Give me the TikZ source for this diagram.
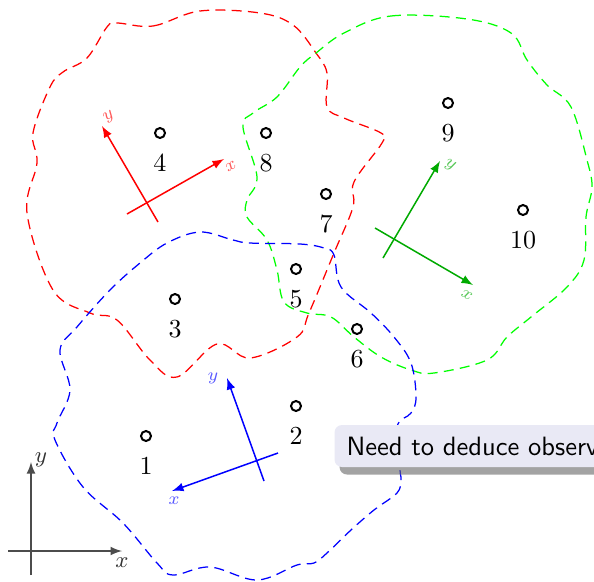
\documentclass[tikz,border=0pt]{standalone}
\usepackage{xcolor}
\usepackage{tikz}
\usetikzlibrary{positioning,shadows}

\definecolor{notefill}{RGB}{233,233,245}
\definecolor{axgreen}{RGB}{0,170,0}

\begin{document}
\begin{tikzpicture}[
      x=0.4pt, y=-0.4pt,
      obs/.style={circle, draw, thick, minimum size=4pt, inner sep=0pt},
      num/.style={below=2.6pt of #1, font=\fontsize{10.4}{12}\selectfont},
      zone/.style={dash pattern=on 4pt off 2.5pt, semithin},
      semithin/.style={line width=0.5pt},
      frame/.style={->, >=latex, line width=0.6pt},
      world/.style={->, >=latex, semithick, black!70},
      axlab/.style={font=\scriptsize, opacity=0.65},
      callout/.style={rectangle, rounded corners=3pt, fill=notefill,
        font=\sffamily\fontsize{10.6}{12}\selectfont,
        minimum height=16.8pt, inner xsep=4.8pt, anchor=west,
        drop shadow={shadow xshift=2pt, shadow yshift=-3pt, fill=black!60, opacity=0.6}}
    ]
      \useasboundingbox (0,0) rectangle (594,581);
      \clip (0,0) rectangle (594,581);

      % regions
      \draw[zone, red] plot[smooth cycle, tension=0.6] coordinates {
        (117,23) (153,26) (200,11) (260,13) (293,25) (316,53) (327,73) (327,107)
        (344,118) (381,133) (382,143) (354,182) (353,207) (334,253) (309,313)
        (297,337) (250,358) (217,344) (177,377) (150,360) (117,320) (90,313)
        (53,290) (27,213) (37,163) (33,133) (50,87) (63,72) (87,58) (107,27)};
      \draw[zone, green] plot[smooth cycle, tension=0.6] coordinates {
        (344,33) (391,16) (467,19) (511,33) (527,60) (547,85) (571,107) (587,160)
        (592,187) (586,217) (584,260) (567,287) (531,317) (507,337) (487,360)
        (434,373) (411,370) (381,357) (354,337) (331,317) (307,313) (284,302)
        (277,270) (267,240) (247,217) (247,200) (257,177) (243,127) (253,113)
        (277,97) (300,67) (316,53)};
      \draw[zone, blue] plot[smooth cycle, tension=0.6] coordinates {
        (200,232) (233,240) (250,243) (300,244) (324,248) (334,255) (341,287)
        (371,313) (394,337) (411,363) (416,397) (411,413) (397,427) (400,470)
        (401,480) (397,493) (374,510) (351,530) (327,553) (314,563) (297,565)
        (257,580) (210,567) (173,575) (157,563) (123,523) (83,487) (55,440)
        (57,423) (70,390) (60,350) (77,327) (110,290) (140,263) (167,243)};

      % observations
      \node[obs] (p1)  at (146,436) {}; \node[num=p1]  (n1)  {1};
      \node[obs] (p2)  at (296,406) {}; \node[num=p2]  (n2)  {2};
      \node[obs] (p3)  at (175,299) {}; \node[num=p3]  (n3)  {3};
      \node[obs] (p4)  at (160,133) {}; \node[num=p4]  (n4)  {4};
      \node[obs] (p5)  at (296,269) {}; \node[num=p5]  (n5)  {5};
      \node[obs] (p6)  at (357,329) {}; \node[num=p6]  (n6)  {6};
      \node[obs] (p7)  at (326,194) {}; \node[num=p7]  (n7)  {7};
      \node[obs] (p8)  at (266,133) {}; \node[num=p8]  (n8)  {8};
      \node[obs] (p9)  at (448,103) {}; \node[num=p9]  (n9)  {9};
      \node[obs] (p10) at (523,210) {}; \node[num=p10] (n10) {10};

      % world frame
      \coordinate (wx0) at (8,551);  \coordinate (wx1) at (122,551);
      \coordinate (wy0) at (31,575); \coordinate (wy1) at (31,462);
      \draw[world] (wx0) -- (wx1);
      \draw[world] (wy0) -- (wy1);
      \node[font=\small, black!80] (wxl) at (122,563) {$x$};
      \node[font=\small, black!80] (wyl) at (41,460) {$y$};

      % red frame
      \coordinate (rx0) at (127,214); \coordinate (rx1) at (224,159);
      \coordinate (ry0) at (158,222); \coordinate (ry1) at (102,126);
      \draw[frame, red] (rx0) -- (rx1);
      \draw[frame, red] (ry0) -- (ry1);
      \node[axlab, red, rotate=30] (rxl) at (231,166) {$x$};
      \node[axlab, red, rotate=30] (ryl) at (109,117) {$y$};

      % green frame
      \coordinate (gx0) at (375,228); \coordinate (gx1) at (473,285);
      \coordinate (gy0) at (383,258); \coordinate (gy1) at (440,161);
      \draw[frame, axgreen] (gx0) -- (gx1);
      \draw[frame, axgreen] (gy0) -- (gy1);
      \node[axlab, axgreen, rotate=-30] (gxl) at (467,295) {$x$};
      \node[axlab, axgreen, rotate=-30] (gyl) at (450,165) {$y$};

      % blue frame
      \coordinate (bx0) at (278,453); \coordinate (bx1) at (172,491);
      \coordinate (by0) at (264,481); \coordinate (by1) at (227,378);
      \draw[frame, blue] (bx0) -- (bx1);
      \draw[frame, blue] (by0) -- (by1);
      \node[axlab, blue] (bxl) at (174,501) {$x$};
      \node[axlab, blue] (byl) at (213,378) {$y$};

      % note
      \node[callout] (note) at (334,446) {Need to deduce observations};
    \end{tikzpicture}
\end{document}
